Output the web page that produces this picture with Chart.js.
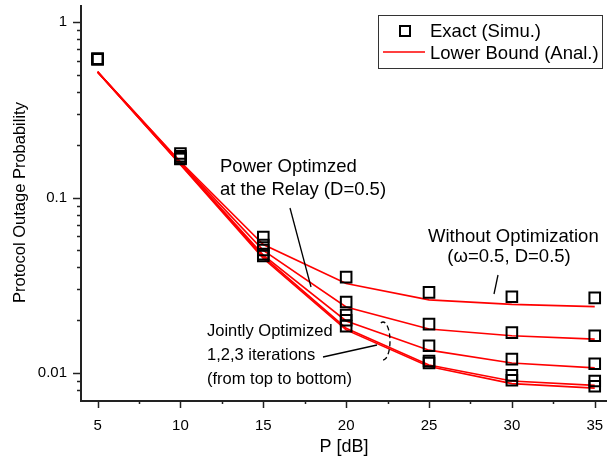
<!DOCTYPE html>
<html><head><meta charset="utf-8">
<script src="https://cdn.jsdelivr.net/npm/chart.js@4/dist/chart.umd.min.js"></script>
<style>html,body{margin:0;padding:0;background:#fff}canvas{display:block}</style>
</head><body>
<canvas id="c" width="607" height="458"></canvas>
<script>
// ---- data ----
const P = [5, 10, 15, 20, 25, 30, 35];
// simulation (squares)
const simWithout = [0.615, 0.178, 0.0596, 0.0352, 0.0288, 0.0272, 0.0268];
const simPower   = [0.615, 0.172, 0.0536, 0.0254, 0.0190, 0.0170, 0.0163];
const simJoint1  = [0.615, 0.168, 0.0502, 0.0214, 0.0143, 0.0120, 0.0113];
const simJoint2  = [0.615, 0.167, 0.0476, 0.0200, 0.0117, 0.0097, 0.0090];
const simJoint3  = [0.615, 0.166, 0.0464, 0.0185, 0.0114, 0.0091, 0.0084];
// analysis (lower bound lines)
const anaWithout = [0.52, 0.160, 0.054, 0.0324, 0.0261, 0.0246, 0.0239];
const anaPower   = [0.52, 0.158, 0.050, 0.0238, 0.0178, 0.0163, 0.0156];
const anaJoint1  = [0.52, 0.156, 0.047, 0.0198, 0.0135, 0.0114, 0.0107];
const anaJoint2  = [0.52, 0.155, 0.046, 0.0180, 0.0111, 0.0090, 0.0085];
const anaJoint3  = [0.52, 0.154, 0.045, 0.0176, 0.0109, 0.0087, 0.0082];
const xMajorTicks = [5, 10, 15, 20, 25, 30, 35];
const xMinorTicks = [7.5, 12.5, 17.5, 22.5, 27.5, 32.5];
const yMajorTicks = [1, 0.1, 0.01];
const yTickLabels = ['1', '0.1', '0.01'];
const legendLabels = ['Exact (Simu.)', 'Lower Bound (Anal.)'];

const FONT = '"Liberation Sans", Arial, sans-serif';
const toXY = arr => arr.map((v, i) => ({x: P[i], y: v}));

const lineSets = [anaWithout, anaPower, anaJoint1, anaJoint2, anaJoint3].map(a => ({
  data: toXY(a), borderColor: '#ff0000', borderWidth: 1.6, pointRadius: 0,
  showLine: true, fill: false, tension: 0, order: 2
}));
const simSets = [simWithout, simPower, simJoint1, simJoint2, simJoint3].map(a => ({
  data: toXY(a), showLine: false, pointStyle: 'rect', pointRadius: 7.5,
  pointBorderColor: '#000', pointBackgroundColor: 'rgba(0,0,0,0)', pointBorderWidth: 2,
  borderColor: '#000', order: 1
}));

function yMinorValues(scale) {
  const out = [];
  for (let e = -3; e <= 0; e++) {
    for (let m = 1; m <= 9; m++) {
      const v = m * Math.pow(10, e);
      if (v >= scale.min && v <= scale.max) out.push(v);
    }
  }
  return out;
}

const decor = {
  id: 'decor',
  afterDraw(chart) {
    const ctx = chart.ctx, xs = chart.scales.x, ys = chart.scales.y;
    const ca = chart.chartArea;
    ctx.save();
    ctx.strokeStyle = '#222'; ctx.lineWidth = 1.5;
    // x ticks
    xMajorTicks.forEach(v => { const p = Math.round(xs.getPixelForValue(v)) + 0.5;
      ctx.beginPath(); ctx.moveTo(p, ca.bottom); ctx.lineTo(p, ca.bottom + 8); ctx.stroke(); });
    xMinorTicks.forEach(v => { const p = Math.round(xs.getPixelForValue(v)) + 0.5;
      ctx.beginPath(); ctx.moveTo(p, ca.bottom); ctx.lineTo(p, ca.bottom + 4); ctx.stroke(); });
    // y ticks
    yMinorValues(ys).forEach(v => {
      const p = Math.round(ys.getPixelForValue(v)) + 0.5;
      const major = yMajorTicks.some(t => Math.abs(t - v) < 1e-9);
      ctx.beginPath(); ctx.moveTo(ca.left, p); ctx.lineTo(ca.left - (major ? 8 : 4), p); ctx.stroke();
    });
    // axis lines
    ctx.lineWidth = 2; ctx.strokeStyle = '#222';
    ctx.beginPath(); ctx.moveTo(ca.left, ca.top); ctx.lineTo(ca.left, ca.bottom + 1);
    ctx.lineTo(ca.right, ca.bottom + 1); ctx.stroke();

    // annotations
    ctx.fillStyle = '#000'; ctx.font = '18.5px ' + FONT; ctx.textBaseline = 'alphabetic';
    ctx.textAlign = 'left';
    ctx.fillText('Power Optimzed', 220, 172);
    ctx.fillText('at the Relay (D=0.5)', 220, 195);
    ctx.fillText('Without Optimization', 428, 242);
    ctx.textAlign = 'center';
    ctx.fillText('(\u03c9=0.5, D=0.5)', 509, 262);
    ctx.textAlign = 'left';
    ctx.font = '16.5px ' + FONT;
    ctx.fillText('Jointly Optimized', 207, 336);
    ctx.fillText('1,2,3 iterations', 207, 360);
    ctx.fillText('(from top to bottom)', 207, 384);
    // pointer lines
    ctx.strokeStyle = '#000'; ctx.lineWidth = 1.3;
    ctx.beginPath(); ctx.moveTo(290, 208); ctx.lineTo(311, 287); ctx.stroke();
    ctx.beginPath(); ctx.moveTo(498, 275); ctx.lineTo(494, 294); ctx.stroke();
    ctx.beginPath(); ctx.moveTo(323, 357); ctx.lineTo(377, 345); ctx.stroke();
    // dashed bracket
    ctx.setLineDash([5, 3]);
    ctx.beginPath(); ctx.ellipse(383, 341, 7, 19, 0, -Math.PI * 0.6, Math.PI * 0.6); ctx.stroke();
    ctx.setLineDash([]);

    // legend
    ctx.lineWidth = 1; ctx.strokeStyle = '#333';
    ctx.strokeRect(378.5, 15.5, 224, 53);
    ctx.lineWidth = 2; ctx.strokeStyle = '#000';
    ctx.strokeRect(400, 26, 10, 10);
    ctx.strokeStyle = '#ff0000'; ctx.lineWidth = 1.6;
    ctx.beginPath(); ctx.moveTo(383, 52); ctx.lineTo(425, 52); ctx.stroke();
    ctx.fillStyle = '#000'; ctx.font = '18.5px ' + FONT; ctx.textAlign = 'left';
    ctx.fillText(legendLabels[0], 430, 37);
    ctx.fillText(legendLabels[1], 430, 59);
    ctx.restore();
  }
};

const zeroPad = s => { s.paddingTop = 0; s.paddingBottom = 0; s.paddingLeft = 0; s.paddingRight = 0; };

new Chart(document.getElementById('c'), {
  type: 'line',
  data: { datasets: [...simSets, ...lineSets] },
  options: {
    responsive: false, animation: false, devicePixelRatio: 1,
    layout: { autoPadding: false, padding: { top: 5, right: 0, left: 0, bottom: 0 } },
    plugins: { legend: { display: false }, tooltip: { enabled: false } },
    scales: {
      x: {
        type: 'linear', min: 4, max: 35.74,
        afterFit: s => { s.height = 58; zeroPad(s); },
        afterBuildTicks: s => { s.ticks = xMajorTicks.map(v => ({value: v})); },
        grid: { display: false }, border: { display: false },
        ticks: { color: '#000', font: { family: FONT, size: 15 }, padding: 9, maxRotation: 0 },
        title: { display: true, text: 'P [dB]', color: '#000', font: { family: FONT, size: 18 }, padding: { top: 2, bottom: 0 } }
      },
      y: {
        type: 'logarithmic', min: 0.00702, max: 1.25,
        afterFit: s => { s.width = 81; zeroPad(s); },
        afterBuildTicks: s => { s.ticks = yMajorTicks.map(v => ({value: v})); },
        grid: { display: false }, border: { display: false },
        ticks: { color: '#000', font: { family: FONT, size: 15 }, padding: 6,
          callback: (v) => { const i = yMajorTicks.findIndex(t => Math.abs(t - v) < 1e-12); return i >= 0 ? yTickLabels[i] : ''; } },
        title: { display: true, text: 'Protocol Outage Probability', color: '#000', font: { family: FONT, size: 16.5 }, padding: { top: 11, bottom: 0 } }
      }
    }
  },
  plugins: [decor]
});
</script>
</body></html>
